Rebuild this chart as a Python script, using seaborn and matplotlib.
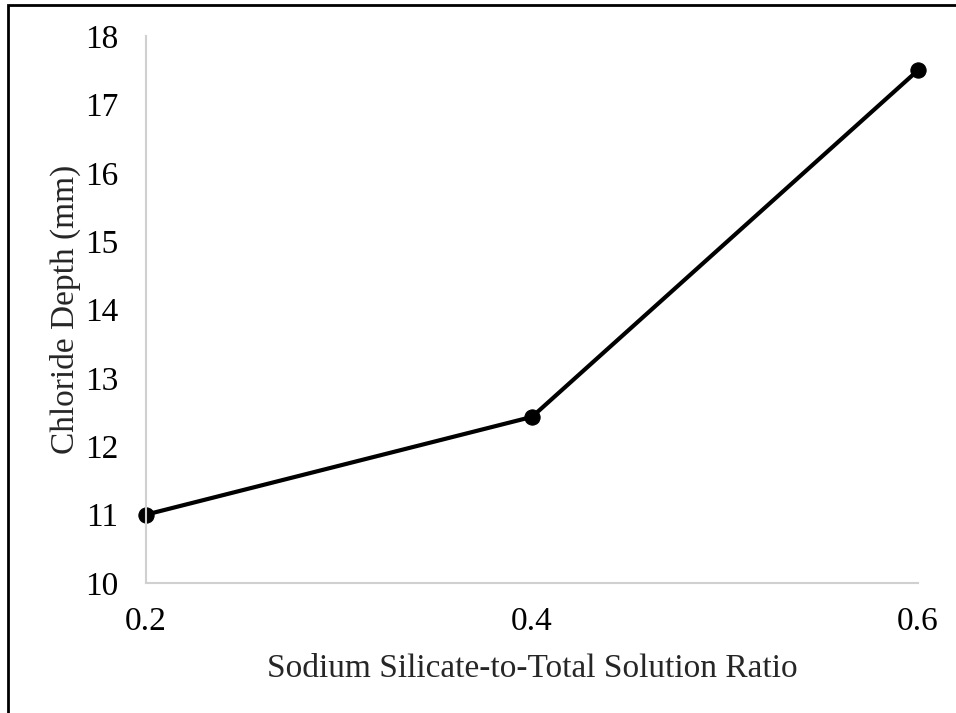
import numpy as np
import pandas as pd
import matplotlib
matplotlib.use("Agg")
import matplotlib.pyplot as plt
import seaborn as sns
from matplotlib.patches import Rectangle

# Data
ratio = [0.2, 0.4, 0.6]
chloride_depth = [11.0, 12.43, 17.5]
y_ticks = [10, 11, 12, 13, 14, 15, 16, 17, 18]

df = pd.DataFrame({"ratio": ratio, "depth": chloride_depth})

sns.set_style("white")
plt.rcParams["font.family"] = ["Liberation Serif", "DejaVu Serif"]

fig = plt.figure(figsize=(9.56, 7.13), dpi=100)
ax = fig.add_axes([0.1527, 0.1823, 0.8076, 0.7672])

sns.lineplot(data=df, x="ratio", y="depth", ax=ax, color="black",
             linewidth=3, marker="o", markersize=11, markeredgecolor="black")

ax.set_xlim(0.2, 0.6)
ax.set_ylim(10, 18)
ax.set_xticks(ratio)
ax.set_xticklabels([f"{r:.1f}" for r in ratio])
ax.set_yticks(y_ticks)
ax.tick_params(axis="both", length=0, labelsize=24, colors="black")
ax.tick_params(axis="y", pad=20)
ax.tick_params(axis="x", pad=17)

ax.set_xlabel("Sodium Silicate-to-Total Solution Ratio", fontsize=24, labelpad=12)
ax.set_ylabel("Chloride Depth (mm)", fontsize=24, labelpad=3)

for s in ["top", "right"]:
    ax.spines[s].set_visible(False)
for s in ["left", "bottom"]:
    ax.spines[s].set_color("#d0d0d0")
    ax.spines[s].set_linewidth(1.5)
for line in ax.lines:
    line.set_clip_on(False)

# chart border (cropped at right and bottom in the reference)
fig.patches.append(Rectangle((8 / 956, -0.1), 1.2, 1.1 - 5 / 713,
                             transform=fig.transFigure, fill=False,
                             edgecolor="black", linewidth=2))

fig.savefig("out.png", dpi=100)
